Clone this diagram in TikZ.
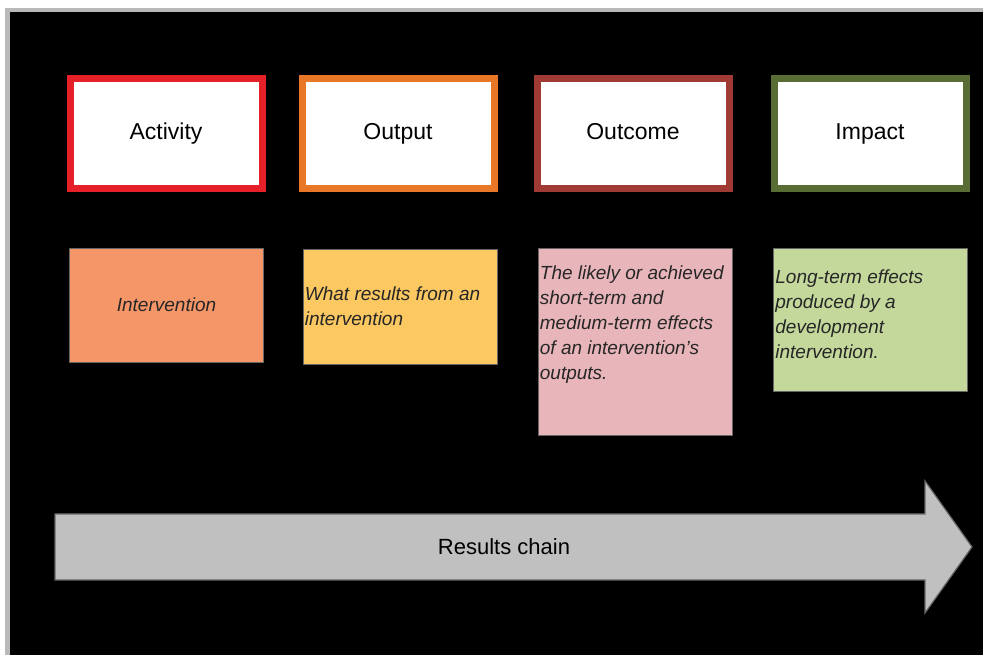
\documentclass[tikz,border=0pt]{standalone}
\usepackage{fontspec}
\setmainfont{Liberation Sans}
\usepackage{xcolor}
\usepackage{tikz}

\definecolor{actred}{RGB}{230,32,40}
\definecolor{outorange}{RGB}{232,120,40}
\definecolor{outcred}{RGB}{160,58,52}
\definecolor{impgreen}{RGB}{88,108,52}
\definecolor{actfill}{RGB}{245,150,105}
\definecolor{outfill}{RGB}{252,200,98}
\definecolor{outcfill}{RGB}{232,182,186}
\definecolor{impfill}{RGB}{196,216,156}
\definecolor{chaingray}{RGB}{192,192,192}

\tikzset{
  titlebox/.style={draw, fill=white, line width=7pt, minimum width=192pt,
    minimum height=110pt, text height=17pt, text depth=5pt,
    font=\fontsize{23}{27}\selectfont},
  descbox/.style={draw=black!60, line width=0.6pt, minimum width=194pt},
  desctext/.style={font=\fontsize{19}{25}\selectfont\itshape, text=black!85,
    align=left, inner sep=2pt}
}

\begin{document}
\begin{tikzpicture}[x=1pt,y=1pt]
                    % frame
                    \fill[white] (0,0) rectangle (983,655);
                    \fill[gray!55] (5,0) rectangle (983,647);
                    \fill[black] (10,0) rectangle (983,643);

                    \foreach \i/\x/\col/\txt in {1/166/actred/Activity, 2/398/outorange/Output,
                                                 3/633/outcred/Outcome, 4/870/impgreen/Impact}
                        \node[titlebox, draw=\col] (title\i) at (\x,521) {\txt};

                    \node[descbox, fill=actfill, minimum height=114pt] (desc1) at (166.5,350) {};
                    \node[desctext] (text1) at (desc1) {Intervention};

                    \node[descbox, fill=outfill, minimum height=115pt] (desc2) at (400,348.5) {};
                    \node[desctext, anchor=west] (text2) at (desc2.west) {What results from an\\intervention};

                    \node[descbox, fill=outcfill, minimum height=187pt] (desc3) at (635,313.5) {};
                    \node[desctext, anchor=north west] (text3) at ([yshift=-16pt]desc3.north west)
                        {The likely or achieved\\short-term and\\medium-term effects\\of an intervention's\\outputs.};

                    \node[descbox, fill=impfill, minimum height=143pt] (desc4) at (870.5,335.5) {};
                    \node[desctext, anchor=west] (text4) at ([yshift=5pt]desc4.west)
                        {Long-term effects\\produced by a\\development\\intervention.};

                    % results chain arrow
                    \filldraw[fill=chaingray, draw=gray!80!black, line width=1.2pt]
                        (55,75) -- (925,75) -- (925,42) -- (972,108) -- (925,174) -- (925,141) -- (55,141) -- cycle;
                    \node[font=\fontsize{22}{26}\selectfont] (chain) at (504,108) {Results chain};
                \end{tikzpicture}
\end{document}
